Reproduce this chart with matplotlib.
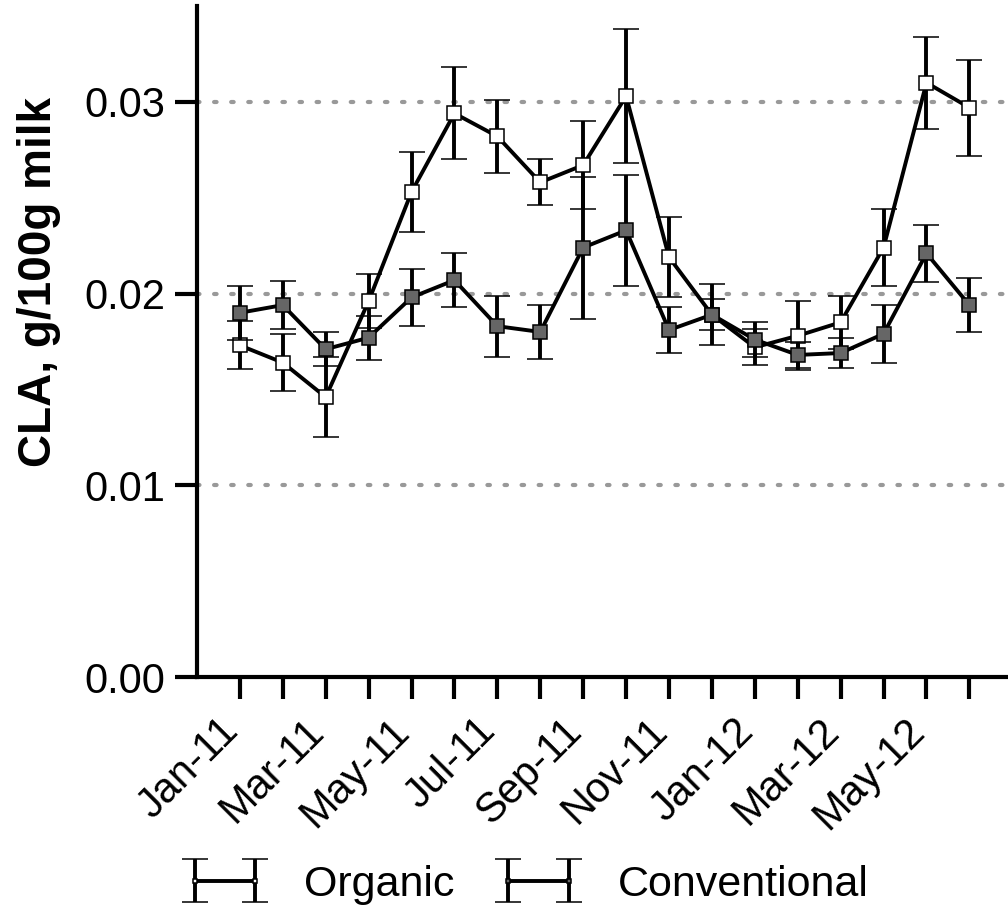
import matplotlib.pyplot as plt

plt.rcParams['font.family'] = ['Liberation Sans', 'DejaVu Sans']

months = ['Jan-11', 'Feb-11', 'Mar-11', 'Apr-11', 'May-11', 'Jun-11', 'Jul-11', 'Aug-11', 'Sep-11',
          'Oct-11', 'Nov-11', 'Dec-11', 'Jan-12', 'Feb-12', 'Mar-12', 'Apr-12', 'May-12', 'Jun-12']

organic = [0.0173, 0.0164, 0.0146, 0.0196, 0.0253, 0.0294, 0.0282, 0.0258, 0.0267,
           0.0303, 0.0219, 0.0189, 0.0172, 0.0178, 0.0185, 0.0224, 0.0310, 0.0297]
organic_err = [0.00125, 0.0015, 0.0021, 0.0014, 0.0021, 0.0024, 0.0019, 0.0012, 0.0023,
               0.0035, 0.0021, 0.0008, 0.00095, 0.0018, 0.0014, 0.0020, 0.0024, 0.0025]

conventional = [0.0190, 0.0194, 0.0171, 0.0177, 0.0198, 0.0207, 0.0183, 0.0180, 0.0224,
                0.0233, 0.0181, 0.0189, 0.0176, 0.0168, 0.0169, 0.0179, 0.0221, 0.0194]
conventional_err = [0.0014, 0.00125, 0.0009, 0.00115, 0.0015, 0.0014, 0.0016, 0.0014, 0.0037,
                    0.0029, 0.0012, 0.0016, 0.0009, 0.0007, 0.0008, 0.0015, 0.0015, 0.0014]

yticks = [0.00, 0.01, 0.02, 0.03]

fig = plt.figure(figsize=(10.08, 9.10), dpi=100)
ax = fig.add_axes([0.1954, 0.256, 0.8046, 0.7374])

x = list(range(len(months)))

h1 = ax.errorbar(x, organic, yerr=organic_err, color='black', lw=2.8, marker='s', ms=9.5,
                 mfc='white', mec='black', mew=1.1, capsize=9.5, capthick=2.8, elinewidth=2.8,
                 label='Organic', zorder=3)
h2 = ax.errorbar(x, conventional, yerr=conventional_err, color='black', lw=2.8, marker='s', ms=9.5,
                 mfc='#666666', mec='black', mew=1.1, capsize=9.5, capthick=2.8, elinewidth=2.8,
                 label='Conventional', zorder=4)

for v in yticks[1:]:
    ax.axhline(v, color='#999999', ls=(0, (0.6, 3.5)), lw=3, zorder=1, dash_capstyle='round')

ax.set_xlim(-1.0, 17.9)
ax.set_ylim(0, 0.035)
ax.set_yticks(yticks)
ax.set_yticklabels(['0.00', '0.01', '0.02', '0.03'], fontsize=30)
ax.set_xticks(x)
ax.set_xticklabels([m if i % 2 == 0 else '' for i, m in enumerate(months)], fontsize=30,
                   rotation=45, ha='right', va='baseline', rotation_mode='anchor')
ax.tick_params(direction='out', length=16, width=3)
ax.tick_params(axis='y', pad=7)
ax.tick_params(axis='x', pad=24)

for s in ['top', 'right']:
    ax.spines[s].set_visible(False)
for s in ['left', 'bottom']:
    ax.spines[s].set_linewidth(3)

ax.set_ylabel('CLA, g/100g milk', fontsize=33, fontweight='bold')
ax.yaxis.set_label_coords(-0.168, 0.589)

fig.legend([h1, h2], ['Organic', 'Conventional'], loc='center', bbox_to_anchor=(0.521, 0.0275),
           ncol=2, frameon=False, fontsize=31, numpoints=2, markerscale=0.35,
           handlelength=2.0, handletextpad=0.84, columnspacing=0.95)

fig.savefig('out.png', dpi=100)
